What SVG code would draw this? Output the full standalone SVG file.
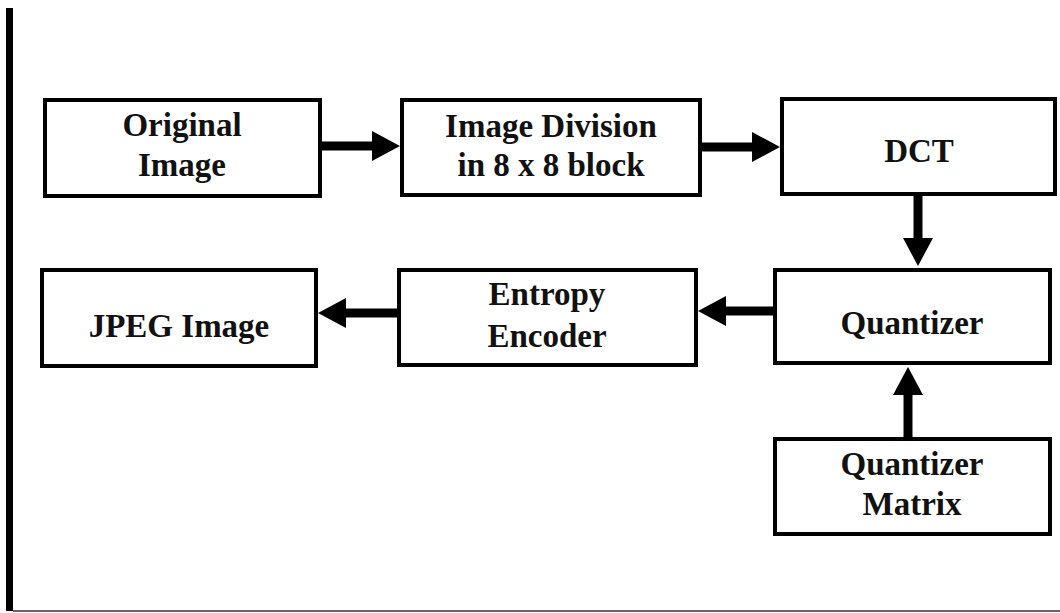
<svg xmlns="http://www.w3.org/2000/svg" width="1060" height="613" viewBox="0 0 1060 613">
<defs>
<style>
.box{fill:#fff;stroke:#000;stroke-width:4}
.lbl{font-family:"Liberation Serif","Times New Roman",serif;font-weight:bold;font-size:33px;fill:#111;text-anchor:middle}
.conn{stroke:#000;stroke-width:9;fill:none;marker-end:url(#ah)}
</style>
<marker id="ah" viewBox="0 -15 28 30" markerWidth="28" markerHeight="30" refX="0" refY="0" orient="auto" markerUnits="userSpaceOnUse">
<path d="M0,-15 L28,0 L0,15 z" fill="#000"/>
</marker>
</defs>
<rect width="1060" height="613" fill="#fff"/>
<rect x="6" y="8" width="7" height="603" fill="#000"/>
<line x1="13" y1="611" x2="1060" y2="611" stroke="#666" stroke-width="2"/>
<g id="connectors">
<line class="conn" x1="322" y1="146" x2="372" y2="146"/>
<line class="conn" x1="702" y1="147" x2="752" y2="147"/>
<line class="conn" x1="918" y1="196" x2="918" y2="238"/>
<line class="conn" x1="773" y1="311" x2="726" y2="311"/>
<line class="conn" x1="397" y1="313" x2="346" y2="313"/>
<line class="conn" x1="908" y1="437" x2="908" y2="395"/>
</g>
<g id="original">
<rect class="box" x="45" y="100" width="275" height="96"/>
<text class="lbl" x="182" y="136">Original</text>
<text class="lbl" x="182" y="176">Image</text>
</g>
<g id="division">
<rect class="box" x="402" y="100" width="298" height="95"/>
<text class="lbl" x="551" y="137">Image Division</text>
<text class="lbl" x="551" y="176">in 8 x 8 block</text>
</g>
<g id="dct">
<rect class="box" x="782" y="99" width="273" height="95"/>
<text class="lbl" x="919" y="162">DCT</text>
</g>
<g id="quantizer">
<rect class="box" x="775" y="270" width="275" height="93"/>
<text class="lbl" x="912" y="334">Quantizer</text>
</g>
<g id="entropy">
<rect class="box" x="399" y="270" width="297" height="95"/>
<text class="lbl" x="547" y="305">Entropy</text>
<text class="lbl" x="547" y="347">Encoder</text>
</g>
<g id="jpeg">
<rect class="box" x="42" y="270" width="274" height="96"/>
<text class="lbl" x="179" y="337">JPEG Image</text>
</g>
<g id="matrix">
<rect class="box" x="775" y="439" width="275" height="95"/>
<text class="lbl" x="912" y="475">Quantizer</text>
<text class="lbl" x="912" y="515">Matrix</text>
</g>
</svg>
